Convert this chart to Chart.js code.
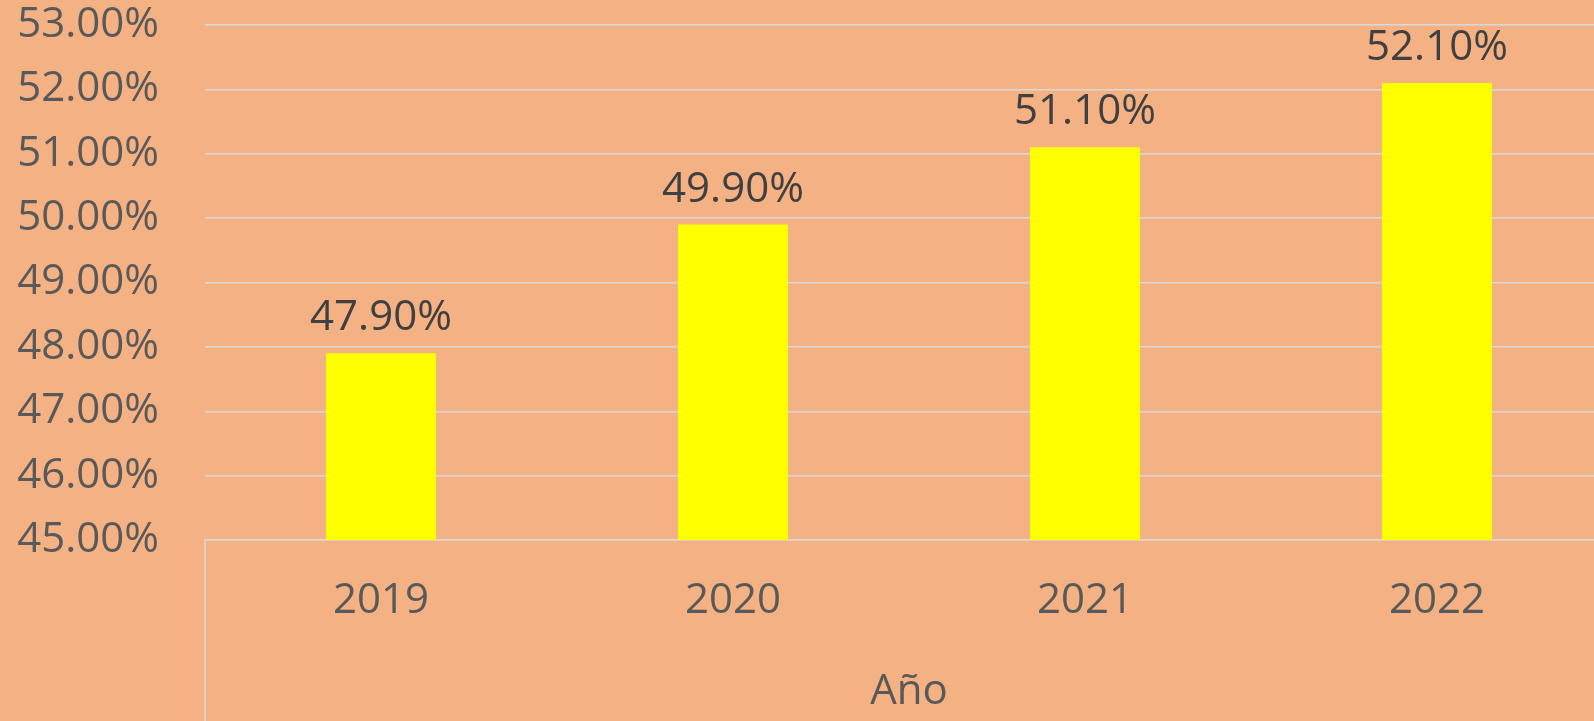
<!DOCTYPE html>
<html>
<head>
<meta charset="utf-8">
<script src="https://cdn.jsdelivr.net/npm/chart.js@4"></script>
<style>
  html, body { margin: 0; padding: 0; overflow: hidden; background: #F4B183; }
  #wrap { width: 1613px; height: 721px; }
</style>
</head>
<body>
<div id="wrap"><canvas id="chart"></canvas></div>
<script>
const years = ['2019', '2020', '2021', '2022']
const shares = [47.9, 49.9, 51.1, 52.1]
const yMin = 45
const yMax = 53
const yStep = 1

const fontFamily = '"Open Sans", "Noto Sans", sans-serif'

// value labels above each bar
const barLabels = {
  id: 'barLabels',
  afterDatasetsDraw(chart) {
    const ctx = chart.ctx
    const meta = chart.getDatasetMeta(0)
    ctx.save()
    ctx.font = '42px ' + fontFamily
    ctx.fillStyle = '#404040'
    ctx.textAlign = 'center'
    ctx.textBaseline = 'alphabetic'
    meta.data.forEach((bar, i) => {
      ctx.fillText(shares[i].toFixed(2) + '%', bar.x, bar.y - 23)
    })
    ctx.restore()
  }
}

// category axis left edge, running down below the plot
const axisEdge = {
  id: 'axisEdge',
  afterDraw(chart) {
    const { ctx, chartArea } = chart
    ctx.save()
    ctx.strokeStyle = '#D9D9D9'
    ctx.lineWidth = 1.5
    ctx.beginPath()
    ctx.moveTo(chartArea.left, chartArea.bottom)
    ctx.lineTo(chartArea.left, chart.height)
    ctx.stroke()
    ctx.restore()
  }
}

new Chart(document.getElementById('chart'), {
  type: 'bar',
  data: {
    labels: years,
    datasets: [{
      data: shares,
      backgroundColor: '#FFFF00',
      borderWidth: 0,
      categoryPercentage: 1,
      barPercentage: 0.3125
    }]
  },
  options: {
    responsive: true,
    maintainAspectRatio: false,
    animation: false,
    layout: { padding: { top: 25, right: 0, bottom: 0, left: 0 } },
    plugins: {
      legend: { display: false },
      tooltip: { enabled: false }
    },
    scales: {
      y: {
        min: yMin,
        max: yMax,
        afterFit(scale) {
          scale.width = 205
          scale.paddingTop = 0
          scale.paddingBottom = 0
        },
        border: { display: false },
        grid: { color: '#D9D9D9', lineWidth: 1.5, drawTicks: false },
        ticks: {
          stepSize: yStep,
          padding: 46,
          color: '#595959',
          font: { family: fontFamily, size: 42 },
          callback: v => v.toFixed(2) + '%'
        }
      },
      x: {
        afterFit(scale) {
          scale.height = 181
          scale.paddingLeft = 0
          scale.paddingRight = 0
        },
        border: { display: true, color: '#D9D9D9', width: 1.5 },
        grid: { display: false, drawTicks: false },
        ticks: {
          padding: 36,
          color: '#595959',
          font: { family: fontFamily, size: 42 }
        },
        title: {
          display: true,
          text: 'Año',
          color: '#595959',
          font: { family: fontFamily, size: 42 },
          padding: { top: 0, bottom: 4 }
        }
      }
    }
  },
  plugins: [barLabels, axisEdge]
})
</script>
</body>
</html>
